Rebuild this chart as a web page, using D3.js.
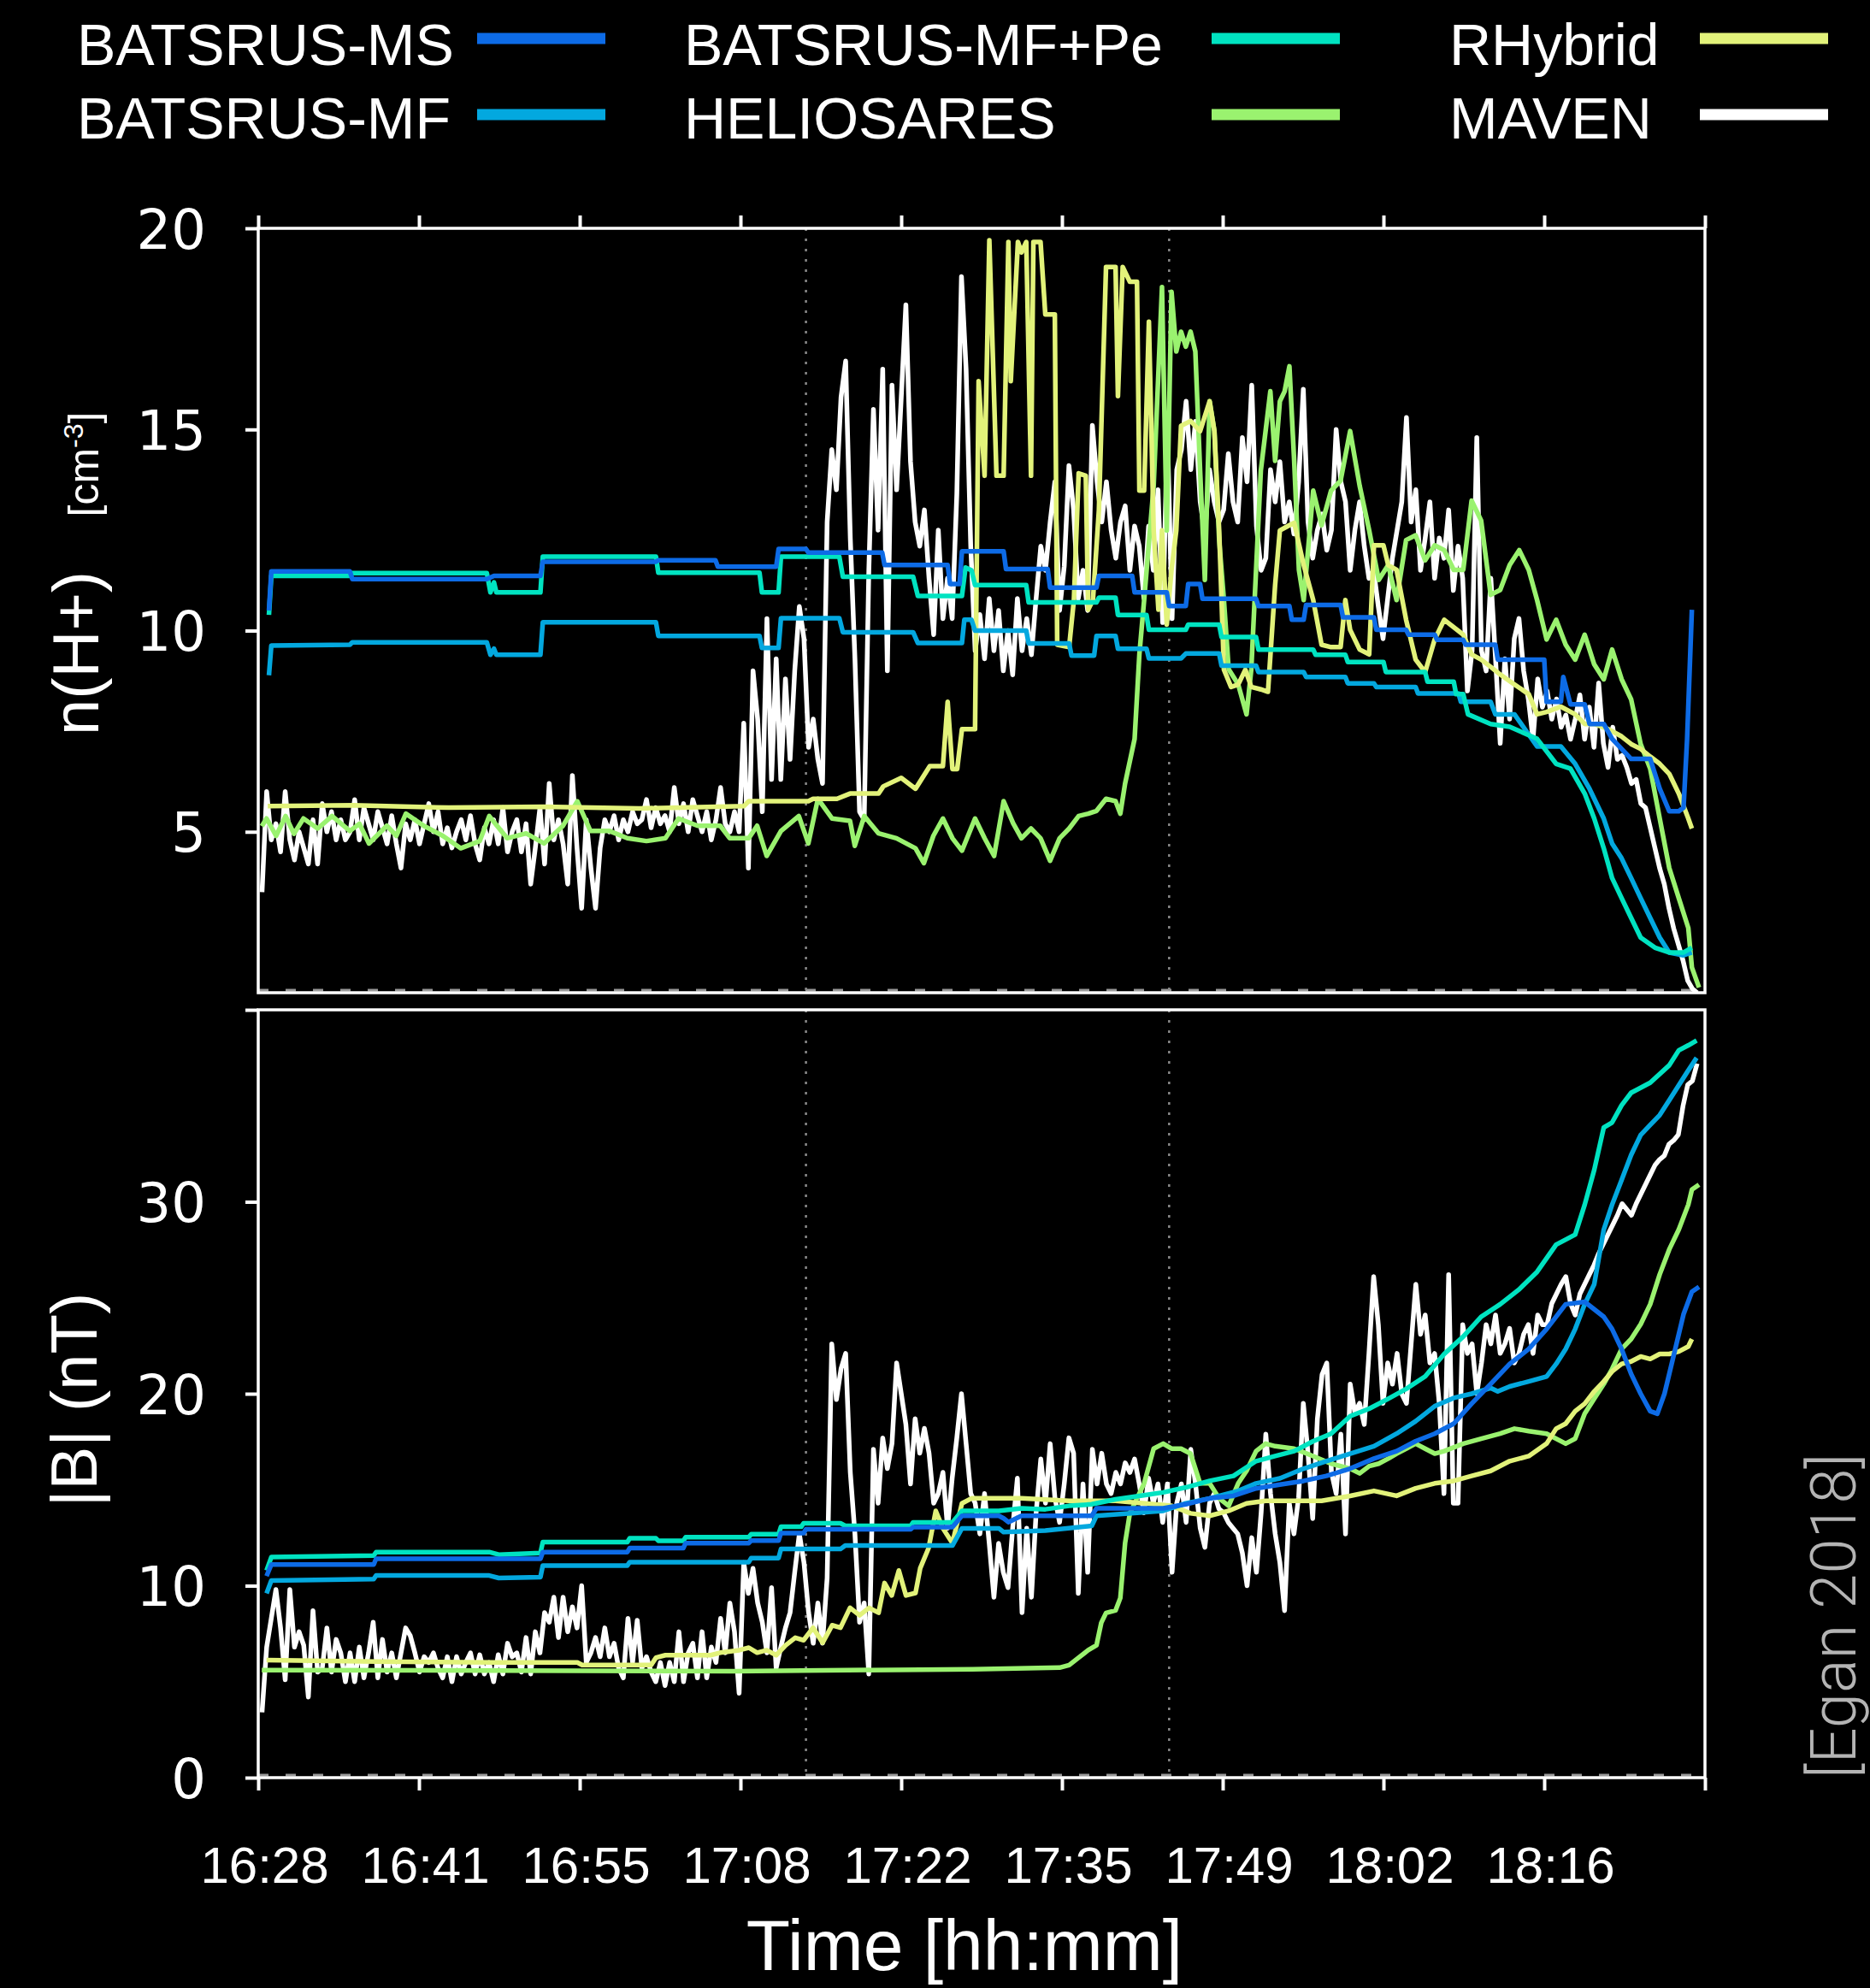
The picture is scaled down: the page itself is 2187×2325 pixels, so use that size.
<!DOCTYPE html>
<html lang="en">

<head>
    <meta charset="UTF-8" />
    <title>n(H+) and |B| along the MAVEN orbit</title>
    <script src="https://d3js.org/d3.v7.min.js"></script>
    <style>
        body {
            margin: 0;
            background: #000;
        }
    </style>
</head>

<body>
    <div id="chart"></div>

    <script>
        // ---------------- data ----------------
        var seriesNames = ["BATSRUS-MS", "BATSRUS-MF", "BATSRUS-MF+Pe", "HELIOSARES", "RHybrid", "MAVEN"];
        var seriesColors = ["#0d6be6", "#03a8df", "#00e3c1", "#9af26f", "#e2f27a", "#ffffff"];

        // time axis in minutes after 16:28
        var xTickValues = [0, 13.5, 27, 40.5, 54, 67.5, 81, 94.5, 108, 121.5];
        var xTickLabels = ["16:28", "16:41", "16:55", "17:08", "17:22", "17:35", "17:49", "18:02", "18:16", ""];
        var nTickValues = [5, 10, 15, 20];
        var bTickValues = [0, 10, 20, 30, 40];
        var bTickLabels = ["0", "10", "20", "30", ""];
        var boundaryTimes = [46.0, 76.5];   // dotted vertical lines

        // MAVEN data, two blocks of regular samples (start minute, step in minutes)
        var mavenStartA = 0.32, mavenStepA = 0.389;
        var mavenStartB = 60.21, mavenStepB = 0.3937;

        var mavenDensA = [3.5, 6.0, 4.8, 5.2, 4.5, 6.0, 4.8, 4.3, 5.0, 4.6,
            4.2, 5.3, 4.2, 5.7, 5.0, 5.5, 4.8, 5.3, 4.8, 5.0,
            5.8, 4.8, 5.6, 5.2, 4.8, 5.5, 5.1, 4.7, 5.4, 4.7,
            4.1, 5.2, 4.8, 5.3, 4.7, 5.2, 5.7, 5.0, 5.5, 4.7,
            5.1, 4.6, 5.0, 5.3, 4.8, 5.4, 4.7, 4.3, 5.1, 4.7,
            5.3, 4.7, 5.6, 4.5, 5.0, 5.3, 4.5, 5.2, 3.7, 4.6,
            5.6, 4.2, 6.2, 4.8, 5.3, 4.7, 3.7, 6.4, 4.6, 3.1,
            5.3, 4.1, 3.1, 4.6, 5.3, 5.0, 5.4, 4.8, 5.3, 5.0,
            5.5, 5.2, 5.3, 5.8, 5.1, 5.6, 5.2, 5.4, 5.0, 6.1,
            5.2, 5.7, 5.0, 5.8, 5.4, 5.0, 5.5, 4.8, 5.3, 6.1,
            5.2, 5.0, 5.5, 5.0, 7.7, 4.1, 9.0, 7.8, 5.5, 10.3,
            6.3, 9.3, 6.3, 8.8, 6.8, 9.0, 10.6, 9.8, 7.1, 7.8,
            6.8, 6.2, 12.7, 14.5, 13.5, 15.8, 16.7, 12.3, 9.3, 5.5,
            5.3, 11.5, 15.5, 12.5, 16.5, 9.0, 16.1, 13.5, 15.8, 18.1,
            14.2, 12.7, 12.1, 13.0, 11.3, 9.9, 12.5, 10.3, 11.3, 10.3,
            13.4, 18.8, 16.5, 12.1];
        var mavenDensB = [9.5, 10.4, 9.3, 10.8, 9.5, 10.5, 9.0, 10.0, 8.9, 10.8,
            9.5, 10.3, 9.4, 10.8, 12.1, 11.5, 12.7, 13.7, 10.5, 11.6,
            14.1, 13.0, 10.8, 11.5, 10.5, 15.1, 13.7, 12.7, 13.7, 12.5,
            11.8, 12.7, 13.1, 11.5, 12.6, 12.1, 10.8, 12.6, 11.5, 13.5,
            10.2, 15.0, 10.3, 14.0, 14.5, 15.7, 14.0, 15.2, 13.2, 12.4,
            14.0, 13.2, 12.7, 13.0, 14.4, 13.2, 12.7, 14.8, 13.7, 16.1,
            12.6, 11.5, 11.8, 14.0, 13.2, 14.2, 12.7, 13.2, 12.4, 13.7,
            16.0, 12.7, 11.8, 12.5, 12.9, 12.0, 12.5, 15.0, 13.7, 13.2,
            11.5, 12.5, 13.2, 12.1, 11.3, 11.5, 10.6, 9.8, 10.8, 11.8,
            12.5, 13.2, 15.3, 12.7, 13.5, 11.5, 12.3, 13.2, 11.3, 12.3,
            11.8, 13.0, 11.0, 12.1, 11.3, 8.5, 9.5, 14.8, 9.5, 9.0,
            11.3, 9.3, 7.2, 9.3, 7.8, 9.8, 10.3, 9.0, 8.3, 7.3,
            8.8, 8.1, 8.5, 7.8, 8.3, 7.6, 7.9, 7.3, 7.8, 8.4,
            7.3, 8.1, 7.1, 8.7, 7.2, 6.6, 7.6, 6.8, 6.9, 6.6,
            6.2, 6.3, 5.7, 5.6, 5.1, 4.6, 4.1, 3.7, 3.1, 2.6,
            2.2, 1.8, 1.3, 1.1, 1.0];

        var mavenFieldA = [3.4, 6.8, 8.3, 9.8, 7.8, 5.1, 9.8, 6.8, 7.6, 6.9,
            4.2, 8.7, 5.5, 5.7, 7.8, 5.5, 7.2, 6.5, 5.0, 6.5,
            5.0, 6.8, 5.2, 6.5, 8.1, 5.2, 7.2, 5.5, 6.5, 5.2,
            6.5, 7.8, 7.4, 6.5, 5.5, 6.3, 6.0, 6.5, 5.7, 5.2,
            6.3, 5.0, 6.3, 5.4, 6.0, 6.5, 5.4, 6.4, 5.4, 6.0,
            5.0, 6.4, 5.4, 7.0, 6.3, 6.5, 5.5, 7.3, 5.4, 7.6,
            6.5, 8.6, 8.1, 9.4, 7.3, 9.4, 7.6, 8.9, 7.8, 10.0,
            6.0, 6.5, 7.3, 6.3, 7.8, 6.3, 7.0, 5.7, 5.2, 8.3,
            6.0, 8.2, 5.7, 6.3, 5.5, 5.0, 6.0, 4.8, 6.0, 5.0,
            7.6, 5.0, 6.5, 7.0, 5.2, 7.6, 5.2, 6.8, 6.0, 8.3,
            6.5, 9.1, 7.6, 4.4, 11.2, 9.6, 10.9, 9.1, 8.1, 6.5,
            9.9, 5.7, 6.8, 7.8, 8.6, 10.7, 12.7, 11.2, 8.6, 7.0,
            9.1, 7.0, 10.4, 22.6, 19.7, 21.3, 22.1, 15.9, 12.7, 8.1,
            9.1, 5.4, 17.1, 14.3, 17.7, 16.1, 17.4, 21.6, 20.0, 18.4,
            15.3, 18.7, 16.9, 18.2, 16.9, 14.3, 14.8, 15.9, 13.0, 15.6,
            17.7, 20.0, 17.4, 14.8];
        var mavenFieldB = [14.3, 12.7, 14.8, 12.2, 9.4, 12.2, 10.7, 9.9, 13.0, 15.6,
            8.6, 13.0, 9.4, 13.8, 16.6, 14.3, 17.4, 14.6, 13.3, 15.3,
            17.7, 16.9, 9.6, 15.3, 10.7, 17.1, 15.3, 16.9, 15.3, 14.8,
            15.9, 15.3, 16.4, 15.9, 16.6, 15.3, 13.8, 15.6, 14.3, 15.3,
            13.3, 15.3, 10.7, 14.3, 15.3, 13.3, 17.1, 15.3, 13.0, 12.0,
            14.3, 14.8, 14.0, 13.8, 13.3, 13.0, 12.7, 11.7, 10.0, 12.5,
            10.7, 13.8, 17.9, 14.8, 12.7, 11.2, 8.7, 14.3, 12.7, 14.6,
            19.5, 16.9, 13.5, 18.7, 21.0, 21.6, 15.9, 14.8, 17.9, 12.7,
            20.5, 19.0, 19.5, 18.4, 22.1, 26.1, 23.6, 19.5, 21.6, 20.5,
            22.1, 20.0, 19.5, 22.6, 25.7, 23.1, 24.1, 21.6, 22.1, 19.5,
            14.8, 26.2, 14.3, 14.3, 23.6, 22.1, 22.6, 20.0, 21.6, 23.6,
            22.6, 24.1, 22.1, 22.6, 23.4, 21.6, 22.1, 23.1, 23.6, 22.1,
            24.1, 23.6, 23.6, 24.7, 25.2, 25.7, 26.1, 24.7, 24.1, 25.2,
            25.7, 26.2, 26.7, 27.3, 27.8, 28.3, 28.8, 29.3, 29.9, 29.6,
            29.3, 29.9, 30.4, 30.9, 31.4, 31.9, 32.2, 32.4, 33.0, 33.2,
            33.5, 35.0, 36.1, 36.3, 37.2];

        // model runs, [minute, value]
        var msDens = [[0.9, 10.5], [1.1, 11.47], [7.7, 11.47], [7.9, 11.28], [19.2, 11.28], [19.8, 11.36], [23.7, 11.36],
            [23.9, 11.71], [33.4, 11.71], [33.6, 11.75], [38.4, 11.75], [38.6, 11.59], [43.5, 11.59], [43.7, 12.03],
            [46.0, 12.03], [46.2, 11.94], [52.4, 11.94], [52.6, 11.63], [57.9, 11.63], [58.1, 11.16], [58.9, 11.16],
            [59.1, 11.97], [62.6, 11.97], [62.8, 11.53], [66.3, 11.53], [66.5, 11.07], [70.4, 11.07], [70.6, 11.36],
            [73.4, 11.36], [73.6, 10.95], [76.3, 10.95], [76.5, 10.61], [77.9, 10.61], [78.1, 11.16], [79.1, 11.16],
            [79.3, 10.79], [83.8, 10.79], [84.0, 10.61], [86.6, 10.61], [86.8, 10.27], [87.8, 10.27], [88.0, 10.64],
            [90.9, 10.64], [91.1, 10.33], [93.7, 10.33], [93.9, 10.02], [96.4, 10.02], [96.6, 9.9], [98.8, 9.9],
            [99.0, 9.77], [101.2, 9.77], [101.4, 9.65], [103.9, 9.65], [104.1, 9.28], [108.0, 9.28], [108.2, 8.23],
            [109.4, 8.23], [109.6, 8.85], [110.2, 8.17], [111.4, 8.17], [111.8, 7.68], [113.0, 7.68], [113.7, 7.31],
            [115.3, 6.81], [116.9, 6.81], [117.7, 6.07], [118.5, 5.51], [119.3, 5.51], [119.7, 5.6], [120.0, 7.31],
            [120.4, 10.52]];
        var mfDens = [[0.9, 8.89], [1.1, 9.63], [7.7, 9.65], [7.9, 9.71], [19.2, 9.71], [19.5, 9.4], [19.8, 9.55],
            [20.0, 9.4], [23.7, 9.4], [23.9, 10.21], [33.4, 10.21], [33.6, 9.87], [42.1, 9.87], [42.3, 9.57],
            [43.7, 9.57], [43.9, 10.31], [48.8, 10.31], [49.1, 9.96], [55.0, 9.96], [55.4, 9.69], [59.1, 9.69],
            [59.3, 10.27], [59.9, 10.27], [60.2, 10.0], [64.5, 10.0], [64.7, 9.68], [68.1, 9.68], [68.3, 9.38],
            [70.2, 9.38], [70.4, 9.87], [72.0, 9.87], [72.2, 9.55], [74.6, 9.55], [74.8, 9.31], [77.5, 9.31],
            [77.9, 9.43], [80.7, 9.43], [80.9, 9.13], [83.8, 9.13], [84.0, 8.97], [87.8, 8.97], [88.0, 8.85],
            [91.3, 8.85], [91.5, 8.69], [93.7, 8.69], [93.9, 8.6], [97.2, 8.6], [97.4, 8.44], [100.8, 8.44],
            [101.0, 8.23], [103.5, 8.23], [103.9, 7.92], [105.5, 7.92], [107.4, 7.12], [109.4, 7.12], [110.6, 6.69],
            [111.8, 6.07], [113.0, 5.33], [113.7, 4.71], [114.5, 4.34], [115.3, 3.85], [116.1, 3.35], [116.9, 2.86],
            [117.7, 2.37], [118.5, 2.0], [119.7, 1.93], [120.4, 2.0]];
        var mfpeDens = [[0.9, 10.39], [1.1, 11.36], [7.7, 11.36], [7.9, 11.43], [19.2, 11.43], [19.5, 10.95],
            [19.8, 11.2], [20.0, 10.95], [23.7, 10.95], [23.9, 11.84], [33.4, 11.84], [33.6, 11.44], [42.1, 11.44],
            [42.3, 10.95], [43.7, 10.95], [43.9, 11.84], [48.8, 11.84], [49.1, 11.34], [55.0, 11.34], [55.4, 10.86],
            [59.1, 10.86], [59.4, 11.57], [59.9, 11.5], [60.2, 11.13], [64.5, 11.13], [64.7, 10.7], [70.4, 10.7],
            [70.6, 10.82], [72.0, 10.82], [72.2, 10.39], [74.6, 10.39], [74.8, 10.02], [77.9, 10.02], [78.1, 10.15],
            [80.7, 10.15], [80.9, 9.84], [83.8, 9.84], [84.0, 9.53], [88.6, 9.53], [88.8, 9.4], [91.3, 9.4],
            [91.5, 9.22], [94.5, 9.22], [94.7, 8.97], [98.0, 8.97], [98.2, 8.73], [100.4, 8.73], [100.6, 8.42],
            [101.2, 8.42], [101.6, 7.92], [103.5, 7.68], [105.1, 7.61], [107.4, 7.31], [109.0, 6.69], [110.2, 6.57],
            [111.4, 5.95], [112.2, 5.33], [113.0, 4.59], [113.7, 3.85], [114.5, 3.35], [115.3, 2.86], [116.1, 2.37],
            [117.3, 2.12], [118.5, 2.0], [119.7, 2.0], [120.4, 2.12]];
        var helioDens = [[0.3, 5.14], [0.7, 5.33], [1.5, 4.9], [2.3, 5.39], [3.0, 4.95], [3.8, 5.33], [5.0, 5.08],
            [6.2, 5.39], [7.7, 5.02], [8.5, 5.2], [9.3, 4.71], [10.8, 5.15], [11.6, 4.9], [12.4, 5.45], [13.9, 5.15],
            [15.5, 4.9], [17.0, 4.59], [18.6, 4.77], [19.4, 5.39], [20.9, 4.84], [22.5, 4.96], [24.0, 4.71],
            [25.6, 5.15], [26.8, 5.76], [27.9, 5.02], [29.5, 5.02], [31.0, 4.84], [32.6, 4.77], [34.2, 4.84],
            [35.3, 5.33], [36.9, 5.15], [38.8, 5.15], [39.6, 4.84], [41.2, 4.84], [41.9, 5.15], [42.7, 4.4],
            [43.9, 5.02], [45.4, 5.39], [46.2, 4.71], [47.0, 5.82], [48.2, 5.33], [49.7, 5.27], [50.1, 4.65],
            [50.9, 5.39], [52.1, 4.96], [53.6, 4.84], [55.2, 4.59], [55.9, 4.22], [56.7, 4.9], [57.5, 5.33],
            [58.3, 4.84], [59.1, 4.53], [60.2, 5.33], [61.0, 4.84], [61.8, 4.4], [62.6, 5.76], [63.4, 5.21],
            [64.1, 4.84], [64.9, 5.08], [65.7, 4.84], [66.5, 4.28], [67.3, 4.84], [68.1, 5.08], [68.9, 5.39],
            [69.7, 5.45], [70.4, 5.52], [71.2, 5.82], [72.0, 5.76], [72.4, 5.45], [72.8, 6.2], [73.6, 7.31],
            [74.0, 9.41], [74.4, 10.76], [75.2, 13.6], [75.9, 18.54], [76.3, 12.49], [76.7, 18.42], [77.1, 16.94],
            [77.5, 17.43], [77.9, 17.06], [78.3, 17.43], [78.7, 16.94], [79.1, 13.98], [79.5, 11.26], [79.9, 15.7],
            [80.3, 14.96], [80.7, 12.25], [81.1, 10.76], [81.5, 9.04], [82.3, 8.66], [83.0, 7.92], [83.4, 9.04],
            [84.2, 13.98], [84.6, 14.96], [85.0, 15.95], [85.4, 14.22], [85.8, 15.7], [86.2, 15.95], [86.6, 16.57],
            [87.0, 14.22], [87.4, 11.51], [87.8, 10.76], [88.6, 13.48], [89.3, 12.62], [90.1, 13.48], [90.9, 13.73],
            [91.7, 14.96], [92.5, 13.6], [93.3, 12.49], [94.1, 11.26], [94.9, 11.63], [95.6, 10.76], [96.4, 12.25],
            [97.2, 12.37], [98.0, 11.75], [98.8, 12.12], [99.6, 12.0], [100.4, 11.51], [101.2, 11.51], [101.9, 13.23],
            [102.7, 12.74], [103.5, 10.89], [104.3, 11.01], [105.1, 11.63], [105.9, 12.0], [106.7, 11.51],
            [107.4, 10.76], [108.2, 9.78], [109.0, 10.27], [109.8, 9.65], [110.6, 9.28], [111.4, 9.9], [112.2, 9.16],
            [113.0, 8.79], [113.7, 9.53], [114.5, 8.79], [115.3, 8.29], [116.1, 7.18], [116.9, 6.57], [117.7, 5.33],
            [118.5, 4.1], [119.3, 3.35], [120.1, 2.61], [120.4, 1.63], [121.0, 1.13]];
        var rhybDens = [[0.8, 5.64], [8, 5.66], [16, 5.6], [24, 5.62], [32, 5.58], [40.8, 5.64], [41.2, 5.76],
            [46.2, 5.76], [46.6, 5.82], [48.6, 5.82], [49.7, 5.95], [52.1, 5.95], [52.5, 6.13], [54.0, 6.34],
            [55.2, 6.07], [56.4, 6.63], [57.5, 6.63], [57.9, 8.23], [58.3, 6.56], [58.7, 6.56], [59.1, 7.55],
            [60.2, 7.55], [60.5, 16.2], [61.0, 13.85], [61.4, 19.7], [62.0, 13.85], [62.6, 13.85], [63.0, 19.66],
            [63.2, 16.2], [63.8, 19.66], [64.1, 19.4], [64.5, 19.66], [64.9, 13.85], [65.1, 19.66], [65.7, 19.66],
            [66.1, 17.86], [66.9, 17.86], [67.1, 9.65], [68.1, 9.59], [68.5, 10.76], [68.9, 13.91], [69.5, 13.85],
            [69.7, 10.52], [70.1, 10.76], [70.6, 12.99], [71.2, 19.04], [72.0, 19.04], [72.2, 15.83], [72.6, 19.04],
            [73.2, 18.67], [73.8, 18.67], [74.0, 13.48], [74.4, 13.48], [74.8, 17.68], [75.2, 12.49], [75.6, 10.52],
            [75.9, 12.49], [76.3, 10.15], [76.7, 11.51], [77.1, 12.49], [77.5, 15.09], [78.3, 15.21], [79.1, 14.96],
            [79.9, 15.7], [80.3, 14.96], [80.7, 12.49], [81.1, 9.03], [81.7, 8.6], [82.3, 8.66], [82.9, 9.03],
            [83.4, 8.6], [84.2, 8.54], [84.8, 8.48], [85.4, 11.13], [85.8, 12.49], [86.6, 12.62], [87.0, 12.68],
            [87.8, 11.63], [88.6, 10.76], [89.3, 9.65], [90.1, 9.59], [90.9, 9.59], [91.3, 10.76], [91.7, 10.02],
            [92.5, 9.53], [93.3, 9.41], [93.7, 12.12], [94.5, 12.12], [94.9, 11.63], [95.6, 11.51], [96.4, 10.27],
            [97.2, 9.28], [98.0, 8.97], [98.8, 9.78], [99.6, 10.27], [101.2, 9.9], [101.9, 9.41], [102.7, 9.28],
            [103.5, 9.1], [104.3, 8.91], [105.5, 8.66], [106.7, 8.42], [107.4, 7.92], [108.2, 7.98], [109.4, 8.11],
            [110.6, 7.92], [111.4, 7.68], [112.2, 7.68], [113.4, 7.55], [114.5, 7.37], [115.3, 7.18], [116.1, 7.06],
            [116.9, 6.87], [117.7, 6.69], [118.5, 6.44], [119.3, 5.95], [120.1, 5.33], [120.4, 5.08]];

        var msField = [[0.7, 10.5], [1.1, 11.1], [9.7, 11.1], [9.9, 11.4], [23.7, 11.4], [23.9, 11.75], [31.0, 11.75],
            [31.2, 11.96], [35.7, 11.96], [35.9, 12.22], [41.2, 12.22], [41.4, 12.35], [43.7, 12.35], [43.9, 12.74],
            [45.8, 12.74], [46.0, 12.94], [54.8, 12.94], [55.0, 13.05], [58.3, 13.05], [59.1, 13.64], [62.2, 13.64],
            [62.6, 13.51], [63.0, 13.31], [64.1, 13.64], [70.0, 13.64], [70.4, 14.03], [76.0, 14.03], [77.9, 14.24],
            [79.9, 14.55], [81.9, 14.68], [83.8, 15.07], [85.8, 15.27], [87.8, 15.46], [89.7, 15.72], [91.7, 16.1],
            [93.7, 16.62], [95.6, 17.01], [97.2, 17.53], [98.8, 17.92], [100.4, 18.44], [101.9, 19.48], [103.5, 20.51],
            [105.1, 21.55], [106.7, 22.33], [108.2, 23.37], [109.8, 24.66], [111.4, 24.79], [112.2, 24.4],
            [113.0, 24.01], [113.7, 23.37], [114.5, 22.33], [115.3, 21.03], [116.1, 20.0], [116.9, 19.09],
            [117.5, 18.96], [118.1, 20.0], [118.9, 22.07], [119.7, 24.14], [120.4, 25.31], [121.0, 25.57]];
        var mfField = [[0.7, 9.6], [1.1, 10.27], [9.7, 10.35], [9.9, 10.53], [19.4, 10.53], [20.2, 10.4], [23.7, 10.45],
            [23.9, 11.05], [31.0, 11.05], [31.2, 11.23], [41.2, 11.23], [41.4, 11.44], [43.7, 11.44], [43.9, 11.91],
            [48.9, 11.91], [49.3, 12.09], [58.3, 12.09], [59.1, 12.99], [62.2, 12.99], [62.6, 12.79], [66.1, 12.87],
            [70.0, 13.12], [70.4, 13.64], [76.0, 13.9], [77.9, 14.29], [79.9, 14.55], [82.3, 14.94], [83.8, 15.33],
            [85.8, 15.59], [87.8, 16.1], [89.7, 16.49], [91.7, 16.88], [93.7, 17.27], [95.6, 17.92], [97.2, 18.57],
            [98.8, 19.35], [100.4, 19.78], [101.9, 20.0], [103.5, 20.3], [104.1, 20.12], [105.1, 20.38],
            [106.7, 20.64], [108.2, 20.9], [109.0, 21.55], [109.8, 22.33], [110.6, 23.37], [111.4, 24.66],
            [112.2, 25.7], [113.0, 28.55], [113.7, 29.85], [114.5, 31.14], [115.3, 32.44], [116.1, 33.48],
            [116.9, 34.0], [117.7, 34.52], [118.5, 35.29], [119.3, 36.07], [120.1, 36.85], [120.8, 37.5]];
        var mfpeField = [[0.7, 10.79], [1.1, 11.49], [9.7, 11.57], [9.9, 11.75], [19.4, 11.75], [20.2, 11.62],
            [23.7, 11.7], [23.9, 12.27], [31.0, 12.27], [31.2, 12.47], [33.4, 12.47], [33.6, 12.34], [35.7, 12.34],
            [35.9, 12.53], [41.2, 12.53], [41.4, 12.68], [43.7, 12.68], [43.9, 13.07], [45.6, 13.07], [45.8, 13.25],
            [48.9, 13.25], [49.3, 13.12], [54.8, 13.12], [55.0, 13.3], [58.3, 13.3], [59.1, 13.9], [62.2, 13.9],
            [64.1, 14.03], [66.1, 13.98], [68.1, 14.16], [70.0, 14.24], [72.0, 14.5], [74.0, 14.68], [76.0, 14.86],
            [77.9, 15.12], [79.9, 15.46], [81.9, 15.72], [83.8, 16.49], [85.4, 16.75], [87.0, 17.01], [88.6, 17.53],
            [90.1, 17.92], [91.7, 18.83], [93.3, 19.22], [94.9, 19.74], [96.4, 20.25], [98.0, 20.9], [99.6, 22.07],
            [101.2, 22.98], [102.7, 24.01], [104.3, 24.66], [105.9, 25.44], [107.4, 26.35], [109.0, 27.77],
            [110.6, 28.29], [111.4, 29.85], [112.2, 31.66], [113.0, 33.87], [113.7, 34.13], [114.5, 35.03],
            [115.3, 35.68], [116.9, 36.2], [118.5, 37.11], [119.3, 37.89], [120.1, 38.15], [120.8, 38.4]];
        var helioField = [[0.3, 5.6], [20, 5.58], [40, 5.55], [60, 5.65], [67.3, 5.73], [68.1, 5.86], [68.9, 6.25],
            [69.7, 6.64], [70.4, 6.9], [70.8, 8.07], [71.2, 8.58], [72.0, 8.71], [72.4, 9.36], [72.8, 12.22],
            [73.2, 13.77], [73.6, 14.29], [74.4, 15.33], [75.2, 17.14], [76.0, 17.4], [76.7, 17.14], [77.5, 17.14],
            [78.3, 16.88], [79.1, 15.33], [79.9, 15.33], [80.7, 14.55], [81.5, 14.16], [82.3, 15.33], [83.0, 15.98],
            [83.8, 17.01], [84.6, 17.4], [85.4, 17.27], [87.0, 17.14], [88.6, 16.75], [90.1, 16.36], [91.7, 16.1],
            [92.5, 15.85], [93.3, 16.23], [94.1, 16.36], [94.9, 16.62], [95.6, 16.88], [96.4, 17.14], [97.2, 17.4],
            [98.0, 17.14], [98.8, 16.88], [99.6, 17.01], [101.2, 17.4], [102.7, 17.66], [104.3, 17.92],
            [105.5, 18.18], [106.7, 18.05], [108.2, 17.92], [109.8, 17.4], [110.6, 17.66], [111.4, 18.96],
            [112.2, 19.74], [113.0, 20.51], [113.7, 21.29], [114.5, 22.33], [115.3, 22.85], [116.1, 23.62],
            [116.9, 24.66], [117.7, 26.22], [118.5, 27.52], [119.3, 28.55], [120.1, 29.85], [120.4, 30.63],
            [121.0, 30.89]];
        var rhybField = [[0.7, 6.12], [10, 6.05], [20, 6.0], [26.8, 6.0], [27.2, 5.87], [33.0, 5.87], [33.4, 6.25],
            [34.2, 6.38], [38.0, 6.38], [38.8, 6.51], [40.4, 6.64], [41.2, 6.77], [41.9, 6.51], [42.7, 6.64],
            [43.5, 6.38], [44.3, 6.9], [45.1, 7.29], [45.8, 7.16], [46.6, 7.81], [47.4, 7.03], [48.2, 7.94],
            [48.9, 7.81], [49.7, 8.85], [50.5, 8.46], [51.3, 8.85], [52.1, 8.59], [52.6, 10.14], [53.2, 9.49],
            [53.8, 10.79], [54.4, 9.49], [55.2, 9.62], [55.6, 10.92], [56.3, 11.96], [56.9, 13.9], [57.5, 12.99],
            [58.3, 12.22], [59.1, 14.29], [59.9, 14.55], [64.1, 14.55], [68.1, 14.42], [72.0, 14.42], [76.7, 14.16],
            [78.3, 13.77], [79.9, 13.64], [81.5, 13.9], [83.0, 14.29], [84.6, 14.42], [89.3, 14.42], [91.7, 14.68],
            [93.7, 14.94], [95.6, 14.68], [97.2, 15.07], [98.8, 15.33], [100.4, 15.46], [101.9, 15.72],
            [103.5, 15.98], [105.1, 16.49], [106.7, 16.75], [108.2, 17.4], [109.0, 18.18], [109.8, 18.44],
            [110.6, 19.09], [111.4, 19.48], [112.2, 20.12], [113.0, 20.64], [113.7, 21.16], [114.5, 21.55],
            [115.3, 21.68], [116.1, 21.94], [116.9, 21.81], [117.7, 22.07], [118.5, 22.07], [119.3, 22.2],
            [120.1, 22.46], [120.4, 22.85]];

        // ---------------- layout ----------------
        var w = 2187, h = 2325;
        var left = 302, right = 1994;
        var sansFont = "'Liberation Sans', Arial, Helvetica, sans-serif";
        var tickFont = "'DejaVu Sans', Verdana, sans-serif";

        var svg = d3.select("#chart")
            .append("svg")
            .attr("width", w)
            .attr("height", h)
            .style("background", "#000");

        var xScale = d3.scaleLinear().domain([0, 121.5]).range([left, right]);
        var yDens = d3.scaleLinear().domain([1, 20]).range([1161, 267]);
        var yField = d3.scaleLinear().domain([0, 40]).range([2079, 1181]);

        // join the two MAVEN sample blocks into [minute, value] pairs
        function mavenPairs(a, b) {
            var pa = a.map(function(v, i) { return [mavenStartA + i * mavenStepA, v]; });
            var pb = b.map(function(v, i) { return [mavenStartB + i * mavenStepB, v]; });
            return pa.concat(pb);
        }

        var panels = [
            { id: "dens", y: yDens, series: [msDens, mfDens, mfpeDens, helioDens, rhybDens, mavenPairs(mavenDensA, mavenDensB)] },
            { id: "field", y: yField, series: [msField, mfField, mfpeField, helioField, rhybField, mavenPairs(mavenFieldA, mavenFieldB)] }
        ];

        // draw order: MAVEN first, models on top
        var drawOrder = [5, 3, 4, 1, 2, 0];

        panels.forEach(function(p) {
            var top = p.y.range()[1], bottom = p.y.range()[0];

            svg.append("clipPath")
                .attr("id", "clip-" + p.id)
                .append("rect")
                .attr("x", left)
                .attr("y", top)
                .attr("width", right - left)
                .attr("height", bottom - top);

            var g = svg.append("g").attr("clip-path", "url(#clip-" + p.id + ")");

            // gray dashed baseline
            g.append("line")
                .attr("x1", left).attr("x2", right)
                .attr("y1", bottom - 3).attr("y2", bottom - 3)
                .attr("stroke", "#9a9a9a")
                .attr("stroke-width", 3)
                .attr("stroke-dasharray", "12,20");

            // dotted boundary crossings
            g.selectAll("line.boundary")
                .data(boundaryTimes)
                .enter()
                .append("line")
                .attr("class", "boundary")
                .attr("x1", function(d) { return xScale(d); })
                .attr("x2", function(d) { return xScale(d); })
                .attr("y1", top)
                .attr("y2", bottom)
                .attr("stroke", "#8a8a8a")
                .attr("stroke-width", 2.5)
                .attr("stroke-dasharray", "3,9");

            var line = d3.line()
                .x(function(d) { return xScale(d[0]); })
                .y(function(d) { return p.y(d[1]); });

            drawOrder.forEach(function(i) {
                g.append("path")
                    .datum(p.series[i])
                    .attr("d", line)
                    .attr("fill", "none")
                    .attr("stroke", seriesColors[i])
                    .attr("stroke-width", 5.5)
                    .attr("stroke-linejoin", "round");
            });

            // frame
            svg.append("rect")
                .attr("x", left)
                .attr("y", top)
                .attr("width", right - left)
                .attr("height", bottom - top)
                .attr("fill", "none")
                .attr("stroke", "#fff")
                .attr("stroke-width", 3.5);
        });

        // ---------------- axes ----------------
        function styleAxis(g) {
            g.select(".domain").remove();
            g.selectAll(".tick line").attr("stroke", "#fff").attr("stroke-width", 4);
            g.selectAll(".tick text").attr("fill", "#fff");
        }

        svg.append("g")
            .attr("transform", "translate(" + left + ",0)")
            .call(d3.axisLeft(yDens).tickValues(nTickValues).tickSize(15).tickPadding(46))
            .call(styleAxis)
            .selectAll("text")
            .style("font-family", tickFont)
            .style("font-size", "64px")
            .attr("dy", "0.36em");

        svg.append("g")
            .attr("transform", "translate(" + left + ",0)")
            .call(d3.axisLeft(yField).tickValues(bTickValues).tickSize(15).tickPadding(46)
                .tickFormat(function(d, i) { return bTickLabels[i]; }))
            .call(styleAxis)
            .selectAll("text")
            .style("font-family", tickFont)
            .style("font-size", "64px")
            .attr("dy", "0.36em");

        // ticks along the top of the upper panel
        svg.append("g")
            .attr("transform", "translate(0," + yDens.range()[1] + ")")
            .call(d3.axisTop(xScale).tickValues(xTickValues).tickSize(15).tickFormat(""))
            .call(styleAxis);

        // time axis under the lower panel
        svg.append("g")
            .attr("transform", "translate(0," + yField.range()[0] + ")")
            .call(d3.axisBottom(xScale).tickValues(xTickValues).tickSize(15)
                .tickFormat(function(d, i) { return xTickLabels[i]; }))
            .call(styleAxis)
            .selectAll("text")
            .style("font-family", sansFont)
            .style("font-size", "60px")
            .attr("y", 123)
            .attr("dy", null)
            .attr("dx", 7);

        // axis titles
        svg.append("text")
            .attr("transform", "translate(115,764) rotate(-90)")
            .attr("text-anchor", "middle")
            .attr("fill", "#fff")
            .style("font-family", sansFont)
            .style("font-size", "76px")
            .text("n(H+)");

        var unit = svg.append("text")
            .attr("transform", "translate(115,543) rotate(-90)")
            .attr("text-anchor", "middle")
            .attr("fill", "#fff")
            .style("font-family", sansFont)
            .style("font-size", "50px");
        unit.append("tspan").text("[cm");
        unit.append("tspan").attr("dy", -18).style("font-size", "32px").text("-3");
        unit.append("tspan").attr("dy", 18).text("]");

        svg.append("text")
            .attr("transform", "translate(113,1637) rotate(-90)")
            .attr("text-anchor", "middle")
            .attr("fill", "#fff")
            .style("font-family", sansFont)
            .style("font-size", "76px")
            .text("|B| (nT)");

        svg.append("text")
            .attr("x", 1128)
            .attr("y", 2304)
            .attr("text-anchor", "middle")
            .attr("fill", "#fff")
            .style("font-family", sansFont)
            .style("font-size", "84px")
            .text("Time [hh:mm]");

        svg.append("text")
            .attr("transform", "translate(2170,1890) rotate(-90)")
            .attr("text-anchor", "middle")
            .attr("fill", "#b4b4b4")
            .style("font-family", "Roboto, 'Liberation Sans', sans-serif")
            .style("font-weight", 300)
            .style("font-size", "74px")
            .text("[Egan 2018]");

        // ---------------- legend ----------------
        var legendTextX = [90, 800, 1695];
        var legendSwatchX = [558, 1417, 1988];
        var legendBaseY = [76, 162];
        var legendLineY = [45, 134];

        var legend = svg.selectAll("g.legend")
            .data(seriesNames)
            .enter()
            .append("g")
            .attr("class", "legend");

        legend.append("text")
            .attr("x", function(d, i) { return legendTextX[Math.floor(i / 2)]; })
            .attr("y", function(d, i) { return legendBaseY[i % 2]; })
            .attr("fill", "#fff")
            .style("font-family", sansFont)
            .style("font-size", "68px")
            .text(function(d) { return d; });

        legend.append("line")
            .attr("x1", function(d, i) { return legendSwatchX[Math.floor(i / 2)]; })
            .attr("x2", function(d, i) { return legendSwatchX[Math.floor(i / 2)] + 150; })
            .attr("y1", function(d, i) { return legendLineY[i % 2]; })
            .attr("y2", function(d, i) { return legendLineY[i % 2]; })
            .attr("stroke", function(d, i) { return seriesColors[i]; })
            .attr("stroke-width", 13);
    </script>

</body>

</html>
